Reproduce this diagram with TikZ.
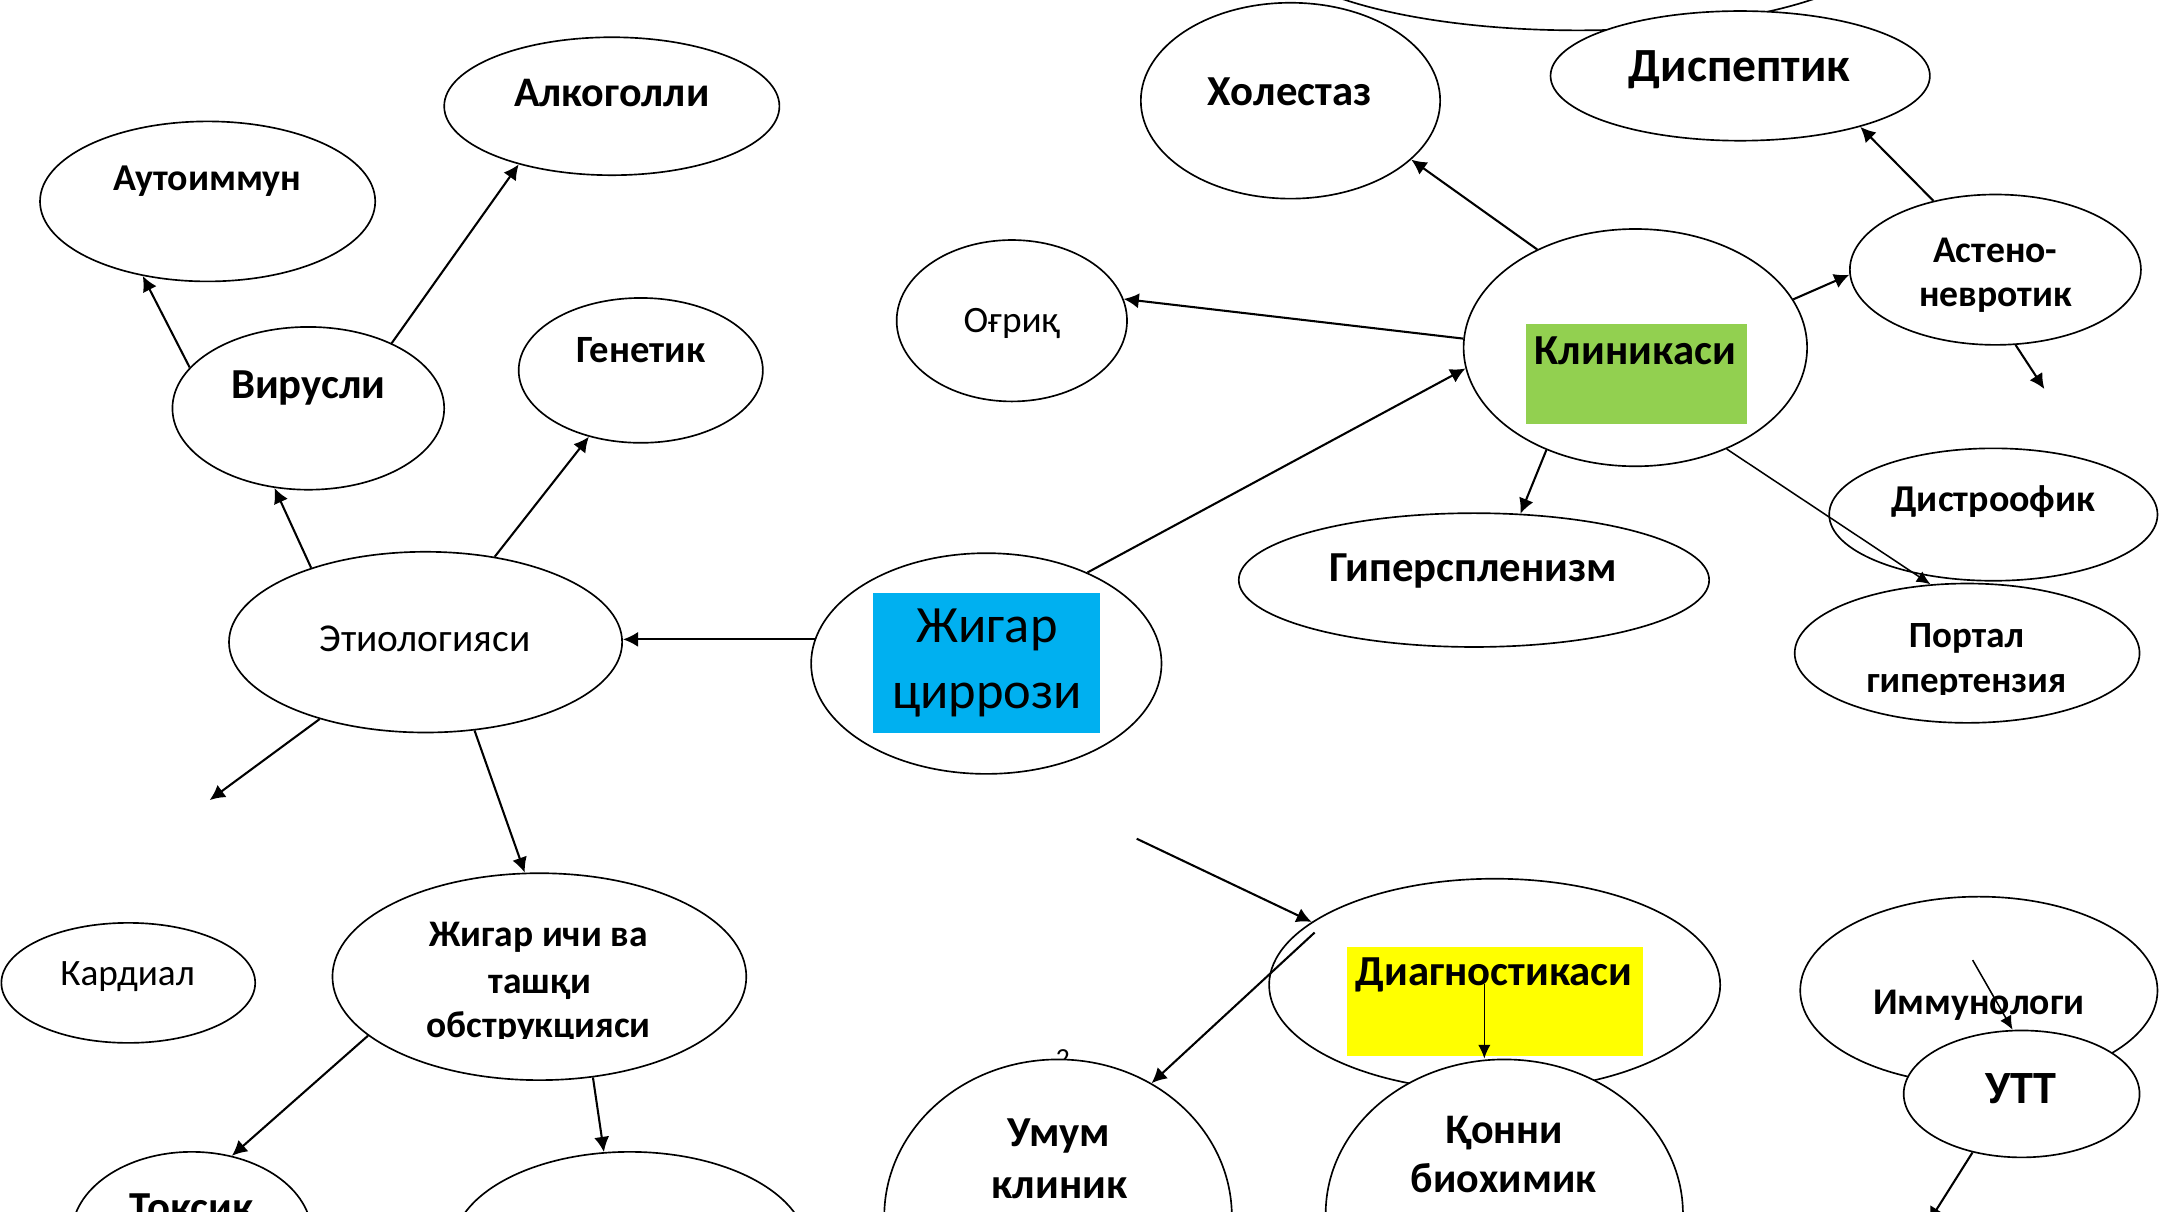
\documentclass[tikz,border=0pt]{standalone}
\usepackage{fontspec}
\setmainfont{Carlito}
\usetikzlibrary{shapes.geometric,arrows.meta,calc}
\newcommand\szf[1]{\fontsize{#1}{#1}\selectfont}
\definecolor{boxblue}{RGB}{0,176,240}
\definecolor{boxgreen}{RGB}{146,208,80}
\definecolor{boxyellow}{RGB}{255,255,0}
\begin{document}
\begin{tikzpicture}[x=1pt,y=-1pt,
  ell/.style={ellipse,draw,line width=1.2pt,fill=white,inner sep=0pt},
  sz/.style 2 args={minimum width=#1pt,minimum height=#2pt},
  lbl/.style={anchor=base,inner sep=0pt,font=\bfseries\szf{#1}},
  plain/.style={anchor=base,inner sep=0pt,font=\szf{#1}},
  hbox/.style={draw=none,inner sep=0pt,anchor=north west},
  link/.style={line width=1.5pt,-{Latex[length=11pt,width=11pt]}},
  thinlink/.style={line width=1.1pt,-{Latex[length=10pt,width=9pt]}},
]
\useasboundingbox (0,0) rectangle (1568,878);
\clip (0,0) rectangle (1568,878);

% ellipses
\node[ell,sz={450}{130}] (topell) at (1144,-43) {};
\node[ell,sz={243}{116}] (aut) at (150.5,146) {};
\node[ell,sz={243}{100}] (alc) at (443.5,77) {};
\node[ell,sz={197}{118}] (vir) at (223.5,296) {};
\node[ell,sz={177}{105}] (gen) at (464.5,268.5) {};
\node[ell,sz={285}{131}] (etio) at (308.5,465.5) {};
\node[ell,sz={254}{160}] (cirr) at (715,481) {};
\node[ell,sz={184}{87}] (card) at (93,712.5) {};
\node[ell,sz={300}{150}] (obst) at (391,708) {};
\node[ell,sz={174}{120}] (tox) at (139,895) {};
\node[ell,sz={257}{140}] (low) at (456.5,905) {};
\node[plain=20] (pgnum) at (770.5,774) {2};
\node[ell,sz={252}{228}] (umum) at (767,882) {};
\node[ell,sz={327}{154}] (diag) at (1083.5,714) {};
\node[ell,sz={259}{224}] (konni) at (1090.5,880) {};
\node[ell,sz={259}{136}] (imm) at (1434.5,718) {};
\node[ell,sz={171}{92}] (utt) at (1465.5,793) {};
\node[ell,sz={249}{172}] (clin) at (1185.5,252) {};
\node[ell,sz={167}{117}] (pain) at (733.5,232.5) {};
\node[ell,sz={217}{142}] (chol) at (935.5,73) {};
\node[ell,sz={275}{94}] (dysp) at (1261.5,55) {};
\node[ell,sz={211}{109}] (asth) at (1446.5,195.5) {};
\node[ell,sz={238}{96}] (dystr) at (1445,373) {};
\node[ell,sz={250}{101}] (port) at (1426,473.5) {};
\node[ell,sz={341}{97}] (hyp) at (1068.5,420.5) {};

% highlighted text areas
\node[hbox,fill=boxblue,sz={164}{101}] (cirrbox) at (633,430) {};
\node[hbox,fill=boxgreen,sz={160}{72}] (clinbox) at (1106,235) {};
\node[hbox,fill=boxyellow,sz={215}{79}] (diagbox) at (976,686) {};

% labels
\node[lbl=27.5] (aut-t) at (150.5,138) {Аутоиммун};
\node[lbl=30.5] (alc-t) at (443.5,77) {Алкоголли};
\node[lbl=31] (vir-t) at (223.5,289) {Вирусли};
\node[lbl=28] (gen-t) at (464.5,263) {Генетик};
\node[plain=28.6] (etio-t) at (308,472.6) {Этиологияси};
\node[plain=38] (cirr-t1) at (715.5,466) {Жигар};
\node[plain=38] (cirr-t2) at (715.5,513.7) {циррози};
\node[plain=27] (card-t) at (92.5,714.3) {Кардиал};
\node[lbl=27.2] (obst-t1) at (390.5,686.3) {Жигар ичи ва};
\node[lbl=27.2] (obst-t2) at (391.5,720) {ташқи};
\begin{scope}
  \clip (240,700) rectangle (540,753);
  \node[lbl=27.2] (obst-t3) at (390.5,752) {обструкцияси};
\end{scope}
\node[lbl=31] (tox-t) at (139,885.5) {Токсик};
\node[lbl=31] (umum-t1) at (767.5,831) {Умум};
\node[lbl=31] (umum-t2) at (768,868.7) {клиник};
\node[lbl=30.5] (konni-t1) at (1090.5,828.6) {Қонни};
\node[lbl=30.5] (konni-t2) at (1090,864.8) {биохимик};
\node[lbl=31] (diag-t) at (1083,714.3) {Диагностикаси};
\node[lbl=27.3] (imm-t) at (1434.5,735.6) {Иммунологи};
\node[lbl=33.5] (utt-t) at (1465,800) {УТТ};
\node[lbl=31] (clin-t) at (1185.5,264.1) {Клиникаси};
\node[plain=27] (pain-t) at (733.5,240.9) {Оғриқ};
\node[lbl=31] (chol-t) at (935,76.8) {Холестаз};
\node[lbl=34.5] (dysp-t) at (1261,59.2) {Диспептик};
\node[lbl=27.3] (asth-t1) at (1446.5,190.2) {Астено-};
\node[lbl=27.3] (asth-t2) at (1446.5,222.3) {невротик};
\node[lbl=27.5] (dystr-t) at (1445,370.7) {Дистроофик};
\node[lbl=26.8] (port-t1) at (1425.5,469.3) {Портал};
\begin{scope}
  \clip (1300,480) rectangle (1552,503.5);
  \node[lbl=26.8] (port-t2) at (1425.5,502) {гипертензия};
\end{scope}
\node[lbl=31] (hyp-t) at (1068,421.6) {Гиперспленизм};

% connectors
\coordinate (etiofree) at (152,580);
\coordinate (asthfree) at (1482,282);
\coordinate (diagin) at (824,608);
\coordinate (uttfree) at (1398,886);
\coordinate (diagout) at ($(diag.center)+(-130.5,-38)$);
\coordinate (diagmid) at ($(diag.center)+(-7.5,-1)$);
\coordinate (immin) at ($(imm.center)+(-4.5,-22)$);

\draw[link] (vir.161.5) -- (aut.-131.3);
\draw[link] (vir.38.5) -- (alc.212.7);
\draw[link] (etio.147) -- (vir.247.4);
\draw[link] (etio.51.9) -- (gen.232.5);
\draw[link] (cirr.172.4) -- (cirr.172.4 -| etio.east);
\draw[link] (etio.216.6) -- (etiofree);
\draw[link] (etio.-61.5) -- (obst.98.3);
\draw[link] (obst.199.7) -- (tox.63);
\draw[link] (obst.-62.8) -- (low.105.6);
\draw[link] (cirr.42.2) -- (clin.187.4);
\draw[link] (clin.177.7) -- (pain.11.3);
\draw[link] (clin.135.2) -- (chol.-26.7);
\draw[link] (clin.17.7) -- (asth.182.6);
\draw[link] (asth.132.2) -- (dysp.-23.8);
\draw[link] (asth.-75.6) -- (asthfree);
\draw[link] (clin.229.5) -- (hyp.55.9);
\draw[thinlink] (clin.-48.1) -- (port.118.1);
\draw[link] (diagin) -- (diag.161.4);
\draw[link] (diagout) -- (umum.55);
\draw[thinlink] (diagmid) -- (diagmid |- konni.north);
\draw[thinlink] (immin) -- (utt.98.2);
\draw[link] (utt.230.2) -- (uttfree);
\end{tikzpicture}
\end{document}
